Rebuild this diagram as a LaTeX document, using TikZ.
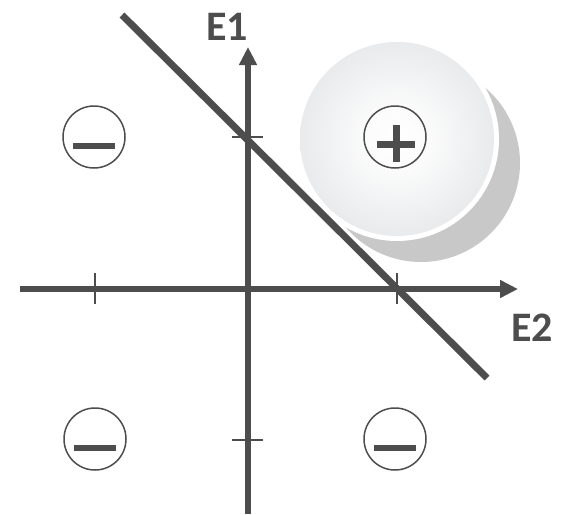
\documentclass[tikz,border=0pt]{standalone}
\usepackage{fontspec}
\setmainfont{Carlito}
\usetikzlibrary{arrows.meta}
\definecolor{axisgray}{RGB}{77,77,77}
\definecolor{shadowgray}{RGB}{200,200,200}
\definecolor{ballgray}{RGB}{206,209,213}
\pgfdeclareradialshading{ballshade}{\pgfpoint{0bp}{0bp}}{color(0bp)=(white); color(8bp)=(white!92!ballgray); color(50bp)=(ballgray); color(100bp)=(ballgray)}
\tikzset{
  axisline/.style={draw=axisgray, line width=6pt, -{Triangle[length=18pt,width=17pt]}},
  tickline/.style={draw=axisgray, line width=2pt},
  signcircle/.style={circle, draw=axisgray, line width=1.5pt, minimum size=62pt, inner sep=0pt, fill=none},
  signbar/.style={fill=axisgray},
  axislabel/.style={text=axisgray, font=\bfseries\fontsize{42}{42}\selectfont, inner sep=0pt}
}
\begin{document}
\begin{tikzpicture}[x=1pt,y=-1pt]
\useasboundingbox (0,0) rectangle (561,514);
% shadow and ball
\fill[shadowgray] (421,163) circle (99);
\coordinate (d1) at (122,15);
\coordinate (d2) at (487,378);
\draw[draw=axisgray, line width=7pt] (d1) -- (d2);
\fill[white] (397,139) circle (102);
\shade[shading=ballshade] (397,139) circle (97);
% axes
\coordinate (hs) at (20,289);
\coordinate (he) at (518,289);
\coordinate (vs) at (248,514);
\coordinate (ve) at (248,47);
\draw[axisline] (hs) -- (he);
\draw[axisline] (vs) -- (ve);
% ticks
\coordinate (tx1a) at (95,273); \coordinate (tx1b) at (95,304);
\coordinate (tx2a) at (397,273); \coordinate (tx2b) at (397,304);
\coordinate (ty1a) at (232,137); \coordinate (ty1b) at (263,137);
\coordinate (ty2a) at (232,440); \coordinate (ty2b) at (263,440);
\draw[tickline] (tx1a) -- (tx1b);
\draw[tickline] (tx2a) -- (tx2b);
\draw[tickline] (ty1a) -- (ty1b);
\draw[tickline] (ty2a) -- (ty2b);
% sign circles
\node[signcircle] (m1) at (94,137) {};
\node[signcircle] (m2) at (95,439) {};
\node[signcircle] (m3) at (395,439) {};
\node[signcircle] (p1) at (395,137) {};
\foreach \n in {m1,m2,m3}{
  \fill[signbar] ([shift={(-21,6)}]\n.center) rectangle ([shift={(21,12)}]\n.center);
}
\fill[signbar] ([shift={(-18,3.5)}]p1.center) rectangle ([shift={(20,10.5)}]p1.center);
\fill[signbar] ([shift={(-2.5,-12)}]p1.center) rectangle ([shift={(4.5,25)}]p1.center);
% labels
\node[axislabel] (e1) at (227,27) {E1};
\node[axislabel] (e2) at (532,328) {E2};
\end{tikzpicture}
\end{document}
